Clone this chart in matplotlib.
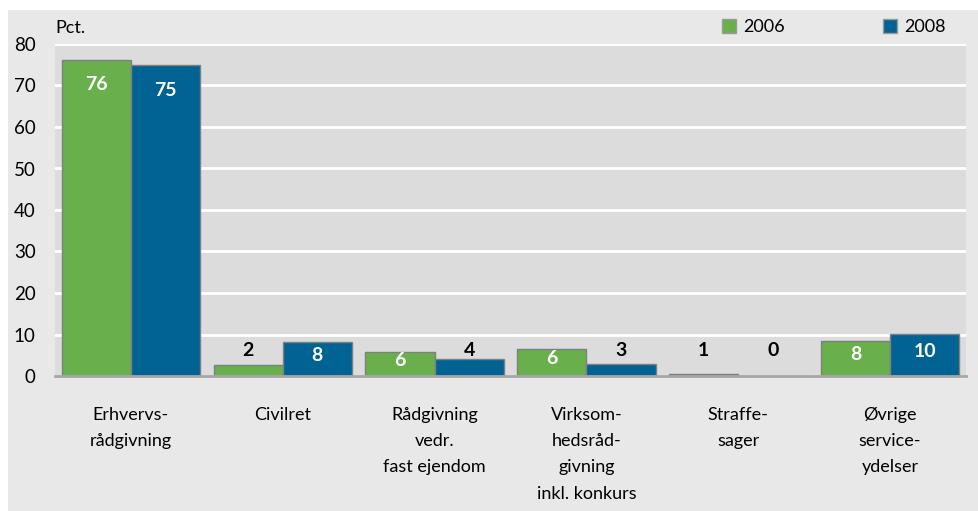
import matplotlib
matplotlib.use("Agg")
import matplotlib.pyplot as plt
from matplotlib.patches import Rectangle, Patch
import numpy as np

categories = ["Erhvervs-\nrådgivning", "Civilret", "Rådgivning\nvedr.\nfast ejendom",
              "Virksom-\nhedsråd-\ngivning\ninkl. konkurs", "Straffe-\nsager", "Øvrige\nservice-\nydelser"]
years = ["2006", "2008"]
vals_2006 = [76.2, 2.6, 5.9, 6.4, 0.6, 8.4]
vals_2008 = [74.9, 8.1, 4.0, 3.0, 0.0, 10.1]
labels_2006 = ["76", "2", "6", "6", "1", "8"]
labels_2008 = ["75", "8", "4", "3", "0", "10"]
yticks = [0, 10, 20, 30, 40, 50, 60, 70, 80]

green = "#69b04d"
blue = "#006393"

plt.rcParams['font.family'] = ['Lato', 'DejaVu Sans']

W, H = 979, 511
fig = plt.figure(figsize=(W / 100, H / 100), dpi=100)
fig.patch.set_facecolor("white")
fig.patches.append(Rectangle((8 / W, 0), 1 - 8 / W, (H - 10) / H, transform=fig.transFigure,
                             facecolor="#e8e8e8", edgecolor="none", zorder=-10))

ax = fig.add_axes([55 / W, (H - 376) / H, (966 - 55) / W, (376 - 44) / H])
ax.set_zorder(2)
ax.set_facecolor("#dcdcdc")

x = np.arange(len(categories))
bw = 0.455
b1 = ax.bar(x - bw / 2, vals_2006, bw, color=green, edgecolor="#7f7f7f", linewidth=1, zorder=3)
b2 = ax.bar(x + bw / 2, vals_2008, bw, color=blue, edgecolor="#7f7f7f", linewidth=1, zorder=3)

# white labels inside the taller bars, black ones on a common line above the low bars
for xs, vals, labs in [(x - bw / 2, vals_2006, labels_2006), (x + bw / 2, vals_2008, labels_2008)]:
    for xi, v, lab in zip(xs, vals, labs):
        if v >= 5:
            ax.text(xi, max(v - 6, v / 2 + 0.9), lab, ha="center", va="center",
                    color="white", fontsize=14, fontweight="bold", zorder=4)
        else:
            ax.text(xi, 6.1, lab, ha="center", va="center",
                    color="black", fontsize=14, fontweight="bold", zorder=4)

ax.set_xlim(-0.5, len(categories) - 0.5)
ax.set_ylim(0, 80)
ax.set_yticks(yticks)
ax.set_yticklabels([str(t) for t in yticks], fontsize=13.5)
ax.yaxis.grid(True, color="white", linewidth=2, zorder=1)
ax.set_axisbelow(True)
ax.tick_params(axis="y", length=0, pad=14)
ax.tick_params(axis="x", length=0, pad=22)
ax.set_xticks(x)
ax.set_xticklabels(categories, fontsize=13, linespacing=1.8, va="top")
for s in ["top", "right", "left"]:
    ax.spines[s].set_visible(False)
ax.spines["bottom"].set_color("#a6a6a6")
ax.spines["bottom"].set_linewidth(2)
ax.spines["bottom"].set_zorder(5)

fig.text(55 / W, (H - 28) / H, "Pct.", fontsize=13, ha="left", va="center")

handles = [Patch(facecolor=green, edgecolor="#9a9a9a"), Patch(facecolor=blue, edgecolor="#9a9a9a")]
fig.legend(handles, years, loc="center left", bbox_to_anchor=(722 / W, (H - 27) / H),
           ncol=2, frameon=False, fontsize=13, handlelength=0.8, handleheight=0.8,
           handletextpad=0.4, columnspacing=5.4, borderpad=0, borderaxespad=0)

fig.savefig("out.png", dpi=100, facecolor=fig.get_facecolor())
